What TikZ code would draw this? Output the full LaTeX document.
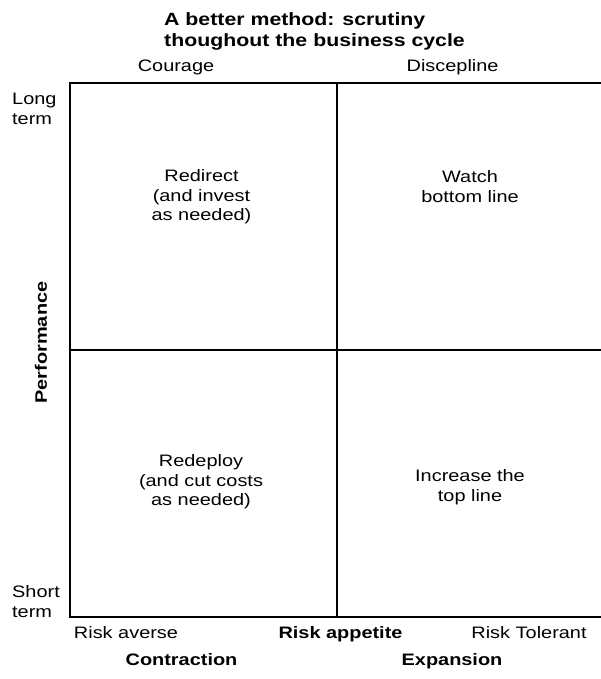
\documentclass[tikz,border=0pt]{standalone}
\usepackage{fontspec}
\setmainfont{Liberation Sans}[FakeStretch=1.2]
\begin{document}
\begin{tikzpicture}[x=1pt,y=-1pt,
  txt/.style={font=\fontsize{16.6}{19.5}\selectfont, inner sep=0pt, align=center},
  btxt/.style={font=\fontsize{16.6}{19.5}\selectfont\bfseries, inner sep=0pt, align=center},
  ttl/.style={font=\fontsize{17.75}{21}\selectfont\bfseries, inner sep=0pt, align=left},
  frame/.style={line width=2.6pt, line cap=rect}]
\useasboundingbox (0,0) rectangle (601,679);
\coordinate (tl) at (70,83);
\coordinate (tr) at (603,83);
\coordinate (bl) at (70,617);
\coordinate (br) at (603,617);
\coordinate (mt) at (337,83);
\coordinate (mb) at (337,617);
\coordinate (ml) at (70,350);
\coordinate (mr) at (603,350);
\draw[frame] (tr) -- (tl) -- (bl) -- (br);
\draw[frame] (mt) -- (mb);
\draw[frame] (ml) -- (mr);
\node[ttl, anchor=west] (title) at (164,31.8) {A better method: scrutiny\\thoughout the business cycle};
\node[txt, anchor=base] (courage) at (176,71.5) {Courage};
\node[txt, anchor=base] (disc) at (452.6,71.5) {Discepline};
\node[txt, align=left, anchor=west] (long) at (12,109) {Long\\term};
\node[txt, align=left, anchor=west] (short) at (12,601.5) {Short\\term};
\node[btxt, rotate=90] (perf) at (41,342.5) {Performance};
\node[txt] (q1) at (201.5,197) {Redirect\\(and invest\\as needed)};
\node[txt] (q2) at (470,186.5) {Watch\\bottom line};
\node[txt] (q3) at (201,482) {Redeploy\\(and cut costs\\as needed)};
\node[txt] (q4) at (470,487) {Increase the\\top line};
\node[txt, anchor=base] (ra) at (126,638) {Risk averse};
\node[btxt, anchor=base] (rap) at (340.5,638) {Risk appetite};
\node[txt, anchor=base] (rt) at (529,638) {Risk Tolerant};
\node[btxt, anchor=base] (con) at (181.5,665) {Contraction};
\node[btxt, anchor=base] (exp) at (452,665) {Expansion};
\end{tikzpicture}
\end{document}
